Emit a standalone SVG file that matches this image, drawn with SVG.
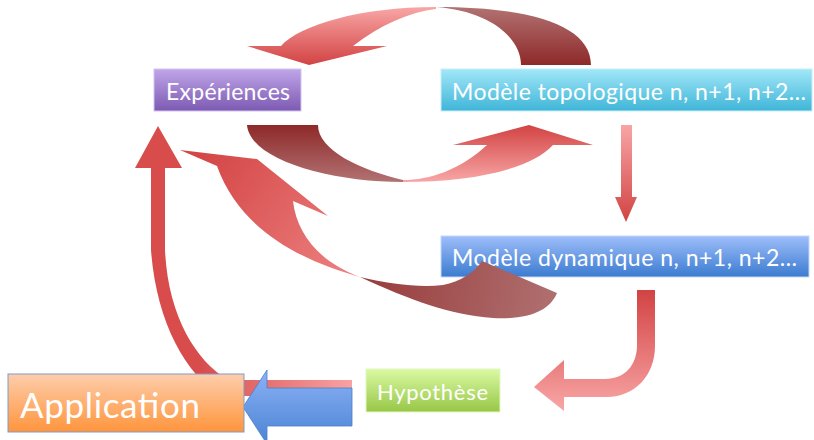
<svg xmlns="http://www.w3.org/2000/svg" width="814" height="440" viewBox="0 0 814 440">
<style>
.lbl{font-family:Lato,"Open Sans","Liberation Sans",sans-serif;fill:#ffffff;}
.box{stroke-width:1;}
</style>
<defs>
<linearGradient id="gExp" x1="0" y1="0" x2="0" y2="1"><stop offset="0" stop-color="#C0A5E9"/><stop offset="1" stop-color="#7C5AB2"/></linearGradient>
<linearGradient id="gTop" x1="0" y1="0" x2="0" y2="1"><stop offset="0" stop-color="#A2E7F8"/><stop offset="1" stop-color="#3FB5D8"/></linearGradient>
<linearGradient id="gDyn" x1="0" y1="0" x2="0" y2="1"><stop offset="0" stop-color="#9EBEFA"/><stop offset="1" stop-color="#3B7BD0"/></linearGradient>
<linearGradient id="gHyp" x1="0" y1="0" x2="0" y2="1"><stop offset="0" stop-color="#DAF9A3"/><stop offset="1" stop-color="#97C747"/></linearGradient>
<linearGradient id="gApp" x1="0" y1="0" x2="0" y2="1"><stop offset="0" stop-color="#FDCDAB"/><stop offset="1" stop-color="#FF953D"/></linearGradient>
<linearGradient id="gBlue" x1="0" y1="0" x2="0" y2="1"><stop offset="0" stop-color="#8CB2F6"/><stop offset="1" stop-color="#4A83D3"/></linearGradient>
<linearGradient id="gTopLight" gradientUnits="userSpaceOnUse" x1="0" y1="7" x2="0" y2="65"><stop offset="0" stop-color="#F9A6A6"/><stop offset="1" stop-color="#D24343"/></linearGradient>
<linearGradient id="gTopDark" gradientUnits="userSpaceOnUse" x1="0" y1="7" x2="0" y2="65"><stop offset="0" stop-color="#B27272"/><stop offset="1" stop-color="#8E2929"/></linearGradient>
<linearGradient id="gBotLight" gradientUnits="userSpaceOnUse" x1="0" y1="125" x2="0" y2="182"><stop offset="0" stop-color="#D24343"/><stop offset="1" stop-color="#F9A6A6"/></linearGradient>
<linearGradient id="gBotDark" gradientUnits="userSpaceOnUse" x1="0" y1="125" x2="0" y2="182"><stop offset="0" stop-color="#8E2929"/><stop offset="1" stop-color="#B27272"/></linearGradient>
<linearGradient id="gMidLight" gradientUnits="userSpaceOnUse" x1="200" y1="155" x2="360" y2="277"><stop offset="0" stop-color="#D44646"/><stop offset="1" stop-color="#EE8282"/></linearGradient>
<linearGradient id="gMidDark" gradientUnits="userSpaceOnUse" x1="360" y1="270" x2="557" y2="310"><stop offset="0" stop-color="#983B3B"/><stop offset="1" stop-color="#B07070"/></linearGradient>
<linearGradient id="gDown" gradientUnits="userSpaceOnUse" x1="0" y1="125" x2="0" y2="222"><stop offset="0" stop-color="#F8A5A5"/><stop offset="1" stop-color="#D24343"/></linearGradient>
<linearGradient id="gRight" gradientUnits="userSpaceOnUse" x1="0" y1="290" x2="0" y2="411"><stop offset="0" stop-color="#D24343"/><stop offset="1" stop-color="#F9A6A6"/></linearGradient>
<linearGradient id="gBig" gradientUnits="userSpaceOnUse" x1="352" y1="0" x2="200" y2="0"><stop offset="0" stop-color="#F8A2A2"/><stop offset="1" stop-color="#D84C4C"/></linearGradient>
</defs>

<g id="node-experiences">
<rect class="box" x="154" y="69" width="147" height="42" fill="url(#gExp)" stroke="#D3C3F0"/>
<text class="lbl" x="166" y="100" font-size="23" textLength="124">Expériences</text>
</g>
<g id="node-topologique">
<rect class="box" x="441" y="69" width="371" height="42" fill="url(#gTop)" stroke="#C6EEF9"/>
<text class="lbl" x="452" y="100" font-size="23" textLength="354">Modèle topologique n, n+1, n+2…</text>
</g>
<g id="node-dynamique">
<rect class="box" x="441" y="236" width="368" height="41" fill="url(#gDyn)" stroke="#C4D7FB"/>
<text class="lbl" x="452" y="266" font-size="23" textLength="345">Modèle dynamique n, n+1, n+2…</text>
</g>
<g id="node-hypothese">
<rect class="box" x="366" y="369" width="134" height="43" fill="url(#gHyp)" stroke="#E4F8C4"/>
<text class="lbl" x="377" y="400" font-size="22" textLength="111">Hypothèse</text>
</g>

<g id="connectors">
<!-- top arc: Modèle topologique -> Expériences -->
<path d="M591,65 C591,25 530,7 436,7 C490,11 521,38 521,65 Z" fill="url(#gTopDark)"/>
<path d="M436,7 C360,7 300,25 281,46 L247,46 L309,65 L387,46 L353,46 C380,25 410,12 436,9 Z" fill="url(#gTopLight)"/>
<!-- bottom arc: Expériences -> Modèle topologique -->
<path d="M247,125 L318,125 C318,150 360,170 403,180 L403,182 C330,182 250,160 247,125 Z" fill="url(#gBotDark)"/>
<path d="M403,182 C470,182 530,170 553,145 L593,145 L529,125 L453,145 L487,145 C460,170 430,180 403,180 Z" fill="url(#gBotLight)"/>
<!-- down arrow: topologique -> dynamique -->
<path d="M621,125 L632,125 L632,197 L637,197 L626,222 L615,197 L621,197 Z" fill="url(#gDown)"/>
<!-- middle arrow: dynamique -> Expériences -->
<path d="M360,277 C390,284 420,288 443,285 C460,282 475,272 482,261 L557,293 C550,310 530,320 493,318 C450,315 410,300 360,277 Z" fill="url(#gMidDark)"/>
<path d="M180,150 L257,159 L328,216 L293,201 C297,235 320,262 360,277 C300,260 240,230 217,166 Z" fill="url(#gMidLight)"/>
<!-- right bent arrow: dynamique -> Hypothèse -->
<path d="M637,290 L655,290 L655,346 C655,375 635,397 607,397 L564,397 L564,411 L534,387 L564,360 L564,379 L605,379 C625,379 637,365 637,345 Z" fill="url(#gRight)"/>
<!-- big left arrow: Application -> Expériences -->
<path d="M352,380 L352,396 L222,396 C185,375 156,320 151,250 L151,168 L135,168 L158,126 L182,168 L165,168 L165,250 C168,315 195,360 228,380 Z" fill="url(#gBig)"/>
<!-- blue arrow: Hypothèse -> Application -->
<path d="M352,388 L352,426 L267,426 L267,444 L243,407 L267,370 L267,388 Z" fill="url(#gBlue)" stroke="#4A7FCB" stroke-width="0.8"/>
</g>

<g id="node-application">
<rect class="box" x="8" y="374" width="236" height="58" fill="url(#gApp)" stroke="#7D9CC9"/>
<text class="lbl" x="20" y="418" font-size="35" textLength="180">Application</text>
</g>
</svg>
